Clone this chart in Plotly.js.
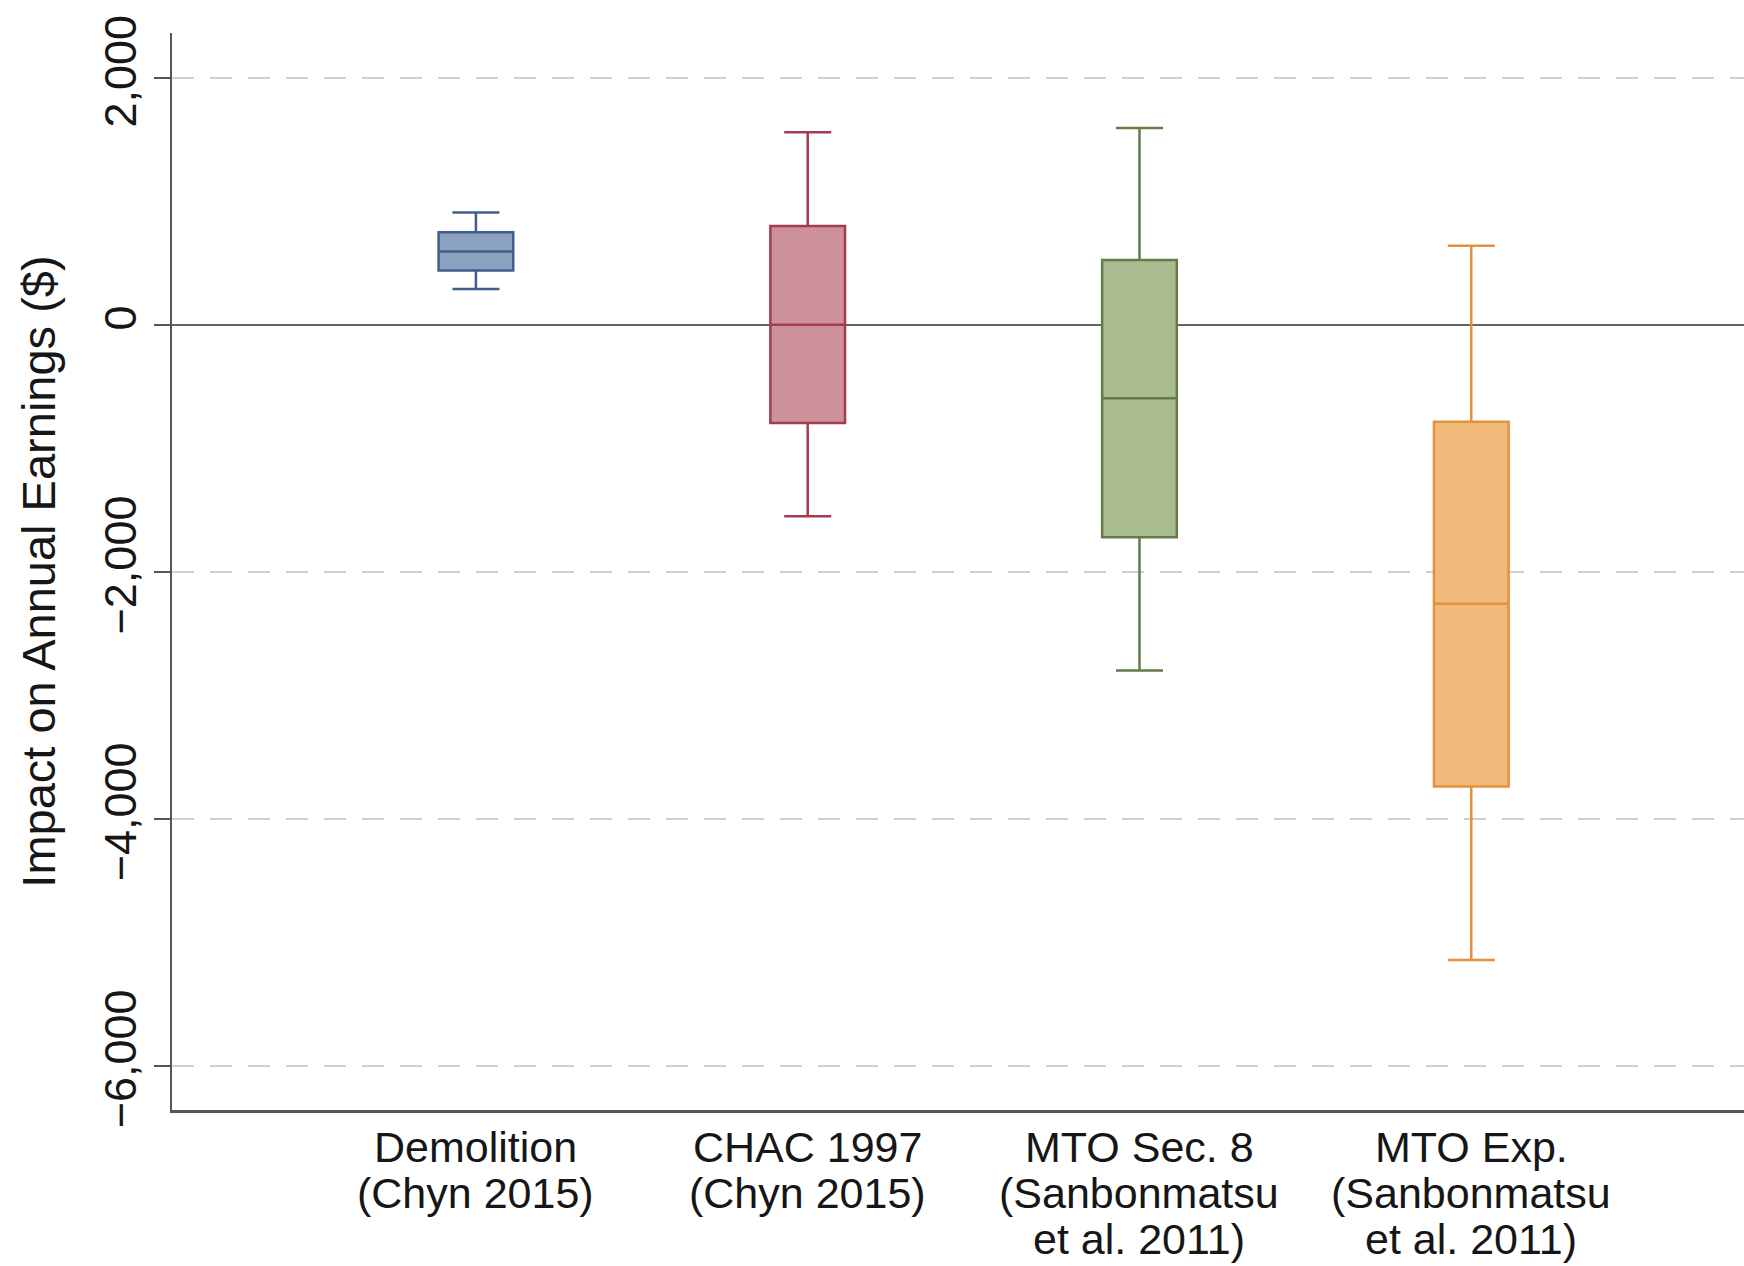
<!DOCTYPE html>
<html>
<head>
<meta charset="utf-8">
<script src="https://cdn.plot.ly/plotly-3.0.1.min.js"></script>
<style>html,body{margin:0;padding:0;background:#fff;}#chart{width:1744px;height:1266px;}</style>
</head>
<body>
<div id="chart"></div>
<script>
// Data
const categories = ['Demolition', 'CHAC 1997', 'MTO Sec. 8', 'MTO Exp.'];
const labelLine2 = ['(Chyn 2015)', '(Chyn 2015)', '(Sanbonmatsu', '(Sanbonmatsu'];
const labelLine3 = ['', '', 'et al. 2011)', 'et al. 2011)'];
const upperWhisker = [910, 1560, 1595, 640];
const q3Values = [750, 800, 525, -785];
const medianValues = [595, 0, -595, -2260];
const q1Values = [440, -795, -1720, -3740];
const lowerWhisker = [290, -1550, -2800, -5145];
const yTickVals = [2000, 0, -2000, -4000, -6000];
const yTickText = ['2,000', '0', '\u22122,000', '\u22124,000', '\u22126,000'];

// Styles
const lineColors = ['#3f5f8a', '#a33c50', '#647c47', '#e2923c'];
const fillColors = ['#8aa1bf', '#cc9199', '#a9bb8f', '#f1b97a'];
const FONT = 'Liberation Sans, Arial, Helvetica, sans-serif';
const TEXT = '#161616';

const traces = categories.map((c, i) => ({
  type: 'box',
  x: [i],
  q1: [q1Values[i]],
  median: [medianValues[i]],
  q3: [q3Values[i]],
  lowerfence: [lowerWhisker[i]],
  upperfence: [upperWhisker[i]],
  width: 0.225,
  whiskerwidth: 0.63,
  fillcolor: fillColors[i],
  line: {color: lineColors[i], width: 2.5},
  boxpoints: false,
  name: c,
  showlegend: false,
  hoverinfo: 'skip'
}));

const lineOffsets = [-37, -83, -129];
const annotations = [];
categories.forEach((c, i) => {
  [c, labelLine2[i], labelLine3[i]].forEach((t, k) => {
    if (!t) return;
    annotations.push({
      x: i, xref: 'x', y: 0, yref: 'paper',
      yanchor: 'middle', xanchor: 'center',
      yshift: lineOffsets[k],
      text: t, showarrow: false,
      font: {family: FONT, size: 43, color: TEXT}
    });
  });
});

const layout = {
  width: 1744, height: 1266,
  margin: {l: 172, r: 0, t: 33, b: 156, pad: 0},
  paper_bgcolor: '#ffffff', plot_bgcolor: '#ffffff',
  font: {family: FONT, color: TEXT},
  xaxis: {
    type: 'linear',
    range: [-0.916, 3.822],
    showgrid: false, zeroline: false,
    showline: true, linecolor: '#555555', linewidth: 2.5,
    showticklabels: false, ticks: ''
  },
  yaxis: {
    range: [-6360, 2364],
    tickvals: yTickVals, ticktext: yTickText,
    tickangle: -90,
    tickfont: {family: FONT, size: 45, color: TEXT},
    ticks: 'outside', ticklen: 16, tickwidth: 2, tickcolor: '#555555',
    showline: true, linecolor: '#555555', linewidth: 2.5,
    showgrid: true, gridcolor: '#cfcfcf', gridwidth: 2, griddash: '22px,16px',
    zeroline: true, zerolinecolor: '#666666', zerolinewidth: 2.5,
    title: {text: 'Impact on Annual Earnings ($)', font: {family: FONT, size: 47, color: TEXT}, standoff: 24},
    automargin: false
  },
  annotations: annotations,
  showlegend: false
};

Plotly.newPlot('chart', traces, layout, {displayModeBar: false, staticPlot: true});
</script>
</body>
</html>
